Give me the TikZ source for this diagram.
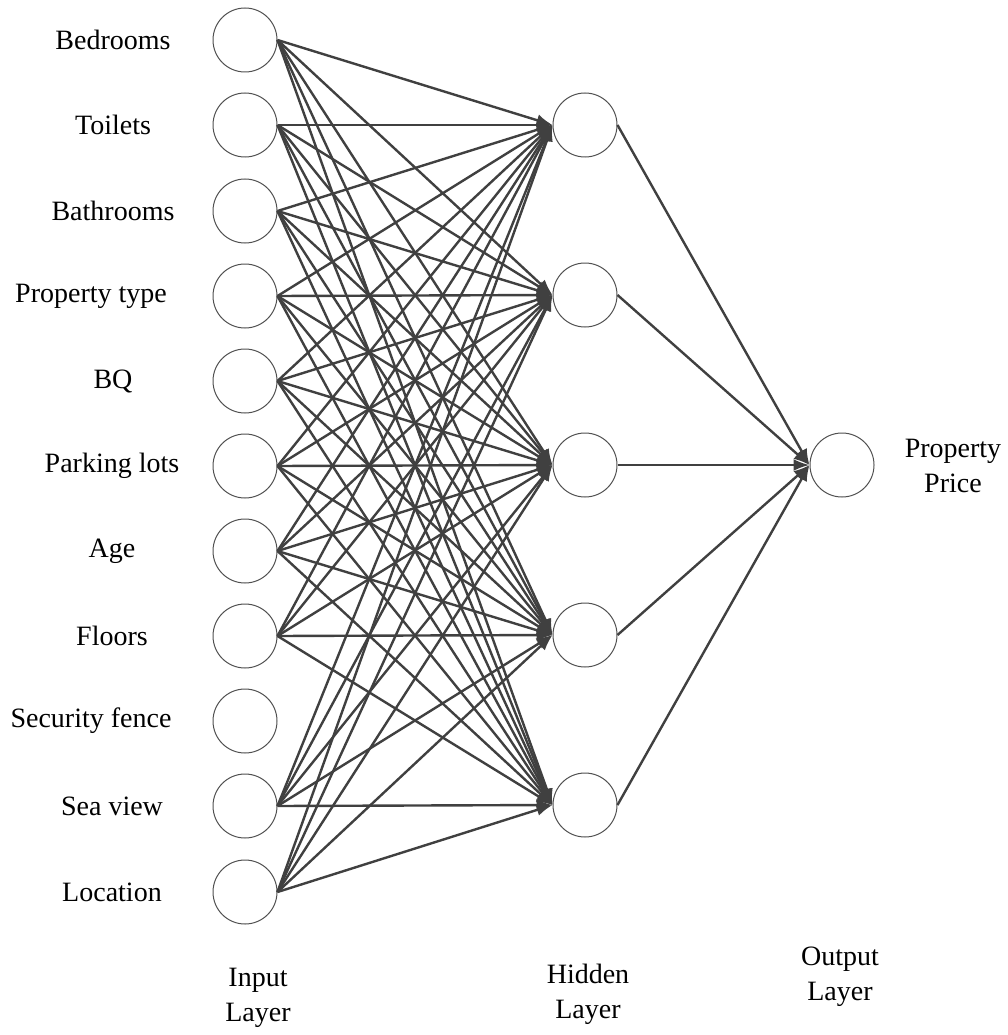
\documentclass[tikz,border=0pt]{standalone}
\usepackage{fontspec}
\setmainfont{Liberation Serif}
\usetikzlibrary{arrows.meta}
\definecolor{edge}{HTML}{404040}
\definecolor{ring}{HTML}{505050}
\begin{document}
\begin{tikzpicture}[x=1pt,y=-1pt,
  neuron/.style={circle,draw=ring,line width=1pt,minimum size=64pt,inner sep=0pt},
  lbl/.style={font=\fontsize{28}{35}\selectfont,align=center,text=black,inner sep=0pt},
  conn/.style={draw=edge,line width=2.4pt,-{Latex[length=16pt,width=12pt]}}]
\useasboundingbox (0,0) rectangle (1008,1035);

% input neurons and labels
\foreach \n/\y/\lx/\t in {
  i1/40/113/Bedrooms, i2/125/113/Toilets, i3/211/113/Bathrooms,
  i4/296/91/Property type, i5/381/113/BQ, i6/466/112/Parking lots,
  i7/551/112/Age, i8/636/112/Floors, i9/721/91/Security fence,
  i10/806/112/Sea view, i11/892/112/Location}{
  \node[neuron] (\n) at (245,\y) {};
  \node[lbl] (l\n) at (\lx,\y) {\t};
}

% hidden neurons
\foreach \n/\y in {h1/125,h2/295,h3/465,h4/635,h5/805}
  \node[neuron] (\n) at (585,\y) {};

% output neuron
\node[neuron] (o) at (842,465) {};
\node[lbl] (lo) at (953,466) {Property\\Price};

% layer captions
\node[lbl] (cin) at (258,998) {Input\\Layer};
\node[lbl] (chid) at (588,994) {Hidden\\Layer};
\node[lbl] (cout) at (840,977) {Output\\Layer};

% input -> hidden (Security fence has no links)
\foreach \i in {1,2,3,4,5,6,7,8,10,11}
  \foreach \h in {1,...,5}
    \draw[conn] (i\i.east) -- (h\h.west);

% hidden -> output
\foreach \h in {1,...,5}
  \draw[conn] (h\h.east) -- (o.west);
\end{tikzpicture}
\end{document}
